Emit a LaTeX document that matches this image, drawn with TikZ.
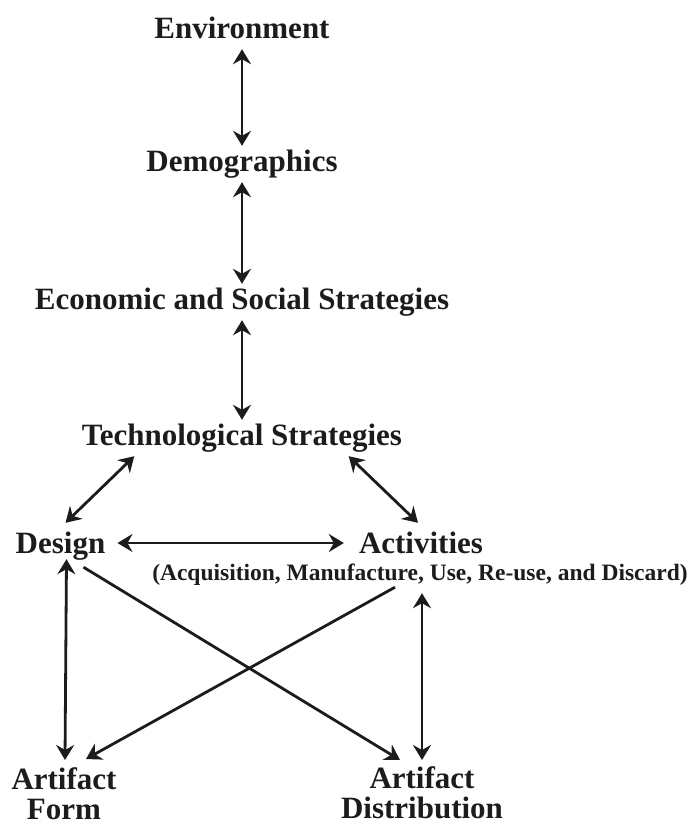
\documentclass[tikz,border=0pt]{standalone}
\usepackage{fontspec}
\setmainfont{Liberation Serif}
\usetikzlibrary{arrows.meta,positioning}
\definecolor{inkColor}{RGB}{30,27,28}
\tikzset{word/.style={font=\fontsize{31}{32}\selectfont\bfseries, text=inkColor, inner xsep=0pt, inner ysep=4pt}}
\tikzset{term/.style={word, text height=21pt, text depth=7pt, anchor=base}}
\tikzset{note/.style={word, font=\fontsize{23.5}{26}\selectfont\bfseries, text height=16pt, text depth=5pt, anchor=base}}
\tikzset{stack/.style={word, font=\fontsize{31}{30}\selectfont\bfseries, align=center, anchor=north}}
\tikzset{flow/.style={line width=2.8pt, draw=inkColor, -{Stealth[length=15pt,width=18pt,inset=5pt]}}}
\tikzset{mutual/.style={flow, {Stealth[length=15pt,width=18pt,inset=5pt]}-{Stealth[length=15pt,width=18pt,inset=5pt]}}}

\begin{document}
\begin{tikzpicture}[x=1pt, y=-1pt]
\useasboundingbox (0,0) rectangle (692,825);
% Nodes
\node (Environment) [term] at (242,38) {Environment};
\node (Demographics) [term] at (242,171) {Demographics};
\node (EconomicSocial) [term] at (242,309) {Economic and Social Strategies};
\node (Technological) [term] at (242,445) {Technological Strategies};

\node (Design) [term] at (60.5,553) {Design};
\node (Activities) [term] at (421,553) {Activities};
\node (ActivitiesList) [note] at (420,580) {(Acquisition, Manufacture, Use, Re-use, and Discard)};

\node (ArtifactForm) [stack] at (64,763) {Artifact\\Form};
\node (ArtifactDistribution) [stack] at (422,762) {Artifact\\Distribution};

% Connectors
\draw [mutual] (Environment) -- (Demographics);
\draw [mutual] (Demographics) -- (EconomicSocial);
\draw [mutual] (EconomicSocial) -- (Technological);

\draw [mutual] ([xshift=52.5pt]Technological.south west) -- ([xshift=5pt,yshift=5pt]Design.north);
\draw [mutual] ([xshift=-53.5pt]Technological.south east) -- ([xshift=-3pt,yshift=5pt]Activities.north);
\draw [mutual] ([xshift=12pt,yshift=3pt]Design.east) -- ([xshift=-15pt,yshift=3pt]Activities.west);

\draw [mutual] ([xshift=6pt,yshift=5pt]Design.south) -- ([xshift=1pt,yshift=3pt]ArtifactForm.north);
\draw [flow] ([xshift=23pt,yshift=-3pt]Design.south) -- ([xshift=-22pt,yshift=2pt]ArtifactDistribution.north);
\draw [flow] ([xshift=-25pt,yshift=2pt]ActivitiesList.south) -- ([xshift=22pt,yshift=4pt]ArtifactForm.north);
\draw [mutual] ([xshift=2pt,yshift=-4pt]ActivitiesList.south) -- ([yshift=2pt]ArtifactDistribution.north);

\end{tikzpicture}
\end{document}
